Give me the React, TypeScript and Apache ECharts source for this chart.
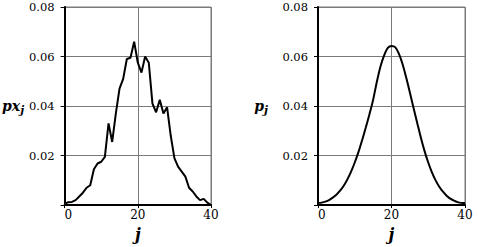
import React, { useEffect, useRef } from "react";
import * as echarts from "echarts";

// j index (x axis)
const J = [
  0, 1, 2, 3, 4, 5, 6, 7, 8, 9, 10, 11, 12, 13, 14, 15, 16, 17, 18, 19, 20,
  21, 22, 23, 24, 25, 26, 27, 28, 29, 30, 31, 32, 33, 34, 35, 36, 37, 38, 39, 40,
];

// left panel: px_j (empirical, noisy)
const PX = [
  0.0005, 0.0012, 0.0013, 0.002, 0.0035, 0.005, 0.007, 0.008, 0.0145, 0.0168,
  0.0175, 0.0195, 0.033, 0.0255, 0.037, 0.047, 0.051, 0.059, 0.0595, 0.066,
  0.0575, 0.0535, 0.06, 0.0575, 0.041, 0.0375, 0.0425, 0.037, 0.0395, 0.028,
  0.019, 0.0155, 0.0135, 0.0115, 0.007, 0.0055, 0.0035, 0.002, 0.0025, 0.001,
  0.0,
];

// right panel: p_j (smooth)
const P = [
  0.0008, 0.001, 0.0014, 0.002, 0.003, 0.0042, 0.0058, 0.0078, 0.0104, 0.0135,
  0.0172, 0.0214, 0.0262, 0.0313, 0.0367, 0.0425, 0.0497, 0.056, 0.0605, 0.0635,
  0.0643, 0.0638, 0.0612, 0.057, 0.0515, 0.0455, 0.0392, 0.0332, 0.0272, 0.0218,
  0.0172, 0.0132, 0.01, 0.0074, 0.0054, 0.0038, 0.0026, 0.0018, 0.0012, 0.0009,
  0.0008,
];

const X_MIN = 0;
const X_MAX = 40;
const X_STEP = 20;
const Y_MIN = 0;
const Y_MAX = 0.08;
const Y_STEP = 0.02;

const X_NAME = "j";
const Y_NAMES = [
  ["px", "j"],
  ["p", "j"],
];

export default function App() {
  const ref = useRef<HTMLDivElement>(null);

  useEffect(() => {
    if (!ref.current) return;
    const chart = echarts.init(ref.current, null, { renderer: "svg" });
    const font = "DejaVu Serif";
    const grids = [
      { left: 63, right: 267, top: 7, bottom: 40 },
      { left: 318, right: 13, top: 7, bottom: 40 },
    ];
    const nameGaps = [38, 50];

    const xAxes = grids.map((_, i) => ({
      type: "value",
      gridIndex: i,
      min: X_MIN,
      max: X_MAX,
      interval: X_STEP,
      axisLine: { show: true, onZero: false, lineStyle: { color: "#000", width: 2 } },
      axisTick: { show: true, length: 3, lineStyle: { color: "#000", width: 1 } },
      axisLabel: {
        color: "#000",
        fontFamily: font,
        fontSize: 12,
        margin: 4,
        alignMinLabel: "left",
      },
      splitLine: { show: true, lineStyle: { color: "#7a7a7a", width: 1 } },
      name: X_NAME,
      nameLocation: "middle",
      nameGap: 19,
      nameTextStyle: {
        fontFamily: font,
        fontSize: 16,
        fontWeight: "bold",
        fontStyle: "italic",
        color: "#000",
      },
    }));

    const yAxes = grids.map((_, i) => ({
      type: "value",
      gridIndex: i,
      min: Y_MIN,
      max: Y_MAX,
      interval: Y_STEP,
      axisLine: { show: true, onZero: false, lineStyle: { color: "#000", width: 2 } },
      axisTick: { show: true, length: 4, lineStyle: { color: "#000", width: 1 } },
      axisLabel: {
        color: "#000",
        fontFamily: font,
        fontSize: 11.5,
        margin: 10,
        formatter: (v: number) => (v === 0 ? "" : v.toFixed(2)),
      },
      splitLine: { show: true, lineStyle: { color: "#7a7a7a", width: 1 } },
      name: `{a|${Y_NAMES[i][0]}}{b|${Y_NAMES[i][1]}}`,
      nameLocation: "middle",
      nameRotate: 0,
      nameGap: nameGaps[i],
      nameTextStyle: {
        fontFamily: font,
        rich: {
          a: {
            fontFamily: font,
            fontSize: 14,
            fontWeight: "bold",
            fontStyle: "italic",
            color: "#000",
          },
          b: {
            fontFamily: font,
            fontSize: 11,
            fontWeight: "bold",
            fontStyle: "italic",
            color: "#000",
            padding: [9, 0, 0, 0],
          },
        },
      },
    }));

    chart.setOption({
      animation: false,
      backgroundColor: "#fff",
      textStyle: { fontFamily: font },
      grid: grids.map((g) => ({
        ...g,
        show: true,
        borderColor: "#7a7a7a",
        borderWidth: 1,
        backgroundColor: "transparent",
      })),
      xAxis: xAxes,
      yAxis: yAxes,
      series: [
        {
          type: "line",
          xAxisIndex: 0,
          yAxisIndex: 0,
          data: J.map((j, k) => [j, PX[k]]),
          showSymbol: false,
          lineStyle: { color: "#000", width: 2 },
        },
        {
          type: "line",
          xAxisIndex: 1,
          yAxisIndex: 1,
          data: J.map((j, k) => [j, P[k]]),
          showSymbol: false,
          smooth: 0.3,
          lineStyle: { color: "#000", width: 2 },
        },
      ],
    });

    return () => chart.dispose();
  }, []);

  return (
    <div
      ref={ref}
      style={{ position: "absolute", left: 0, top: 0, width: 478, height: 247 }}
    />
  );
}
